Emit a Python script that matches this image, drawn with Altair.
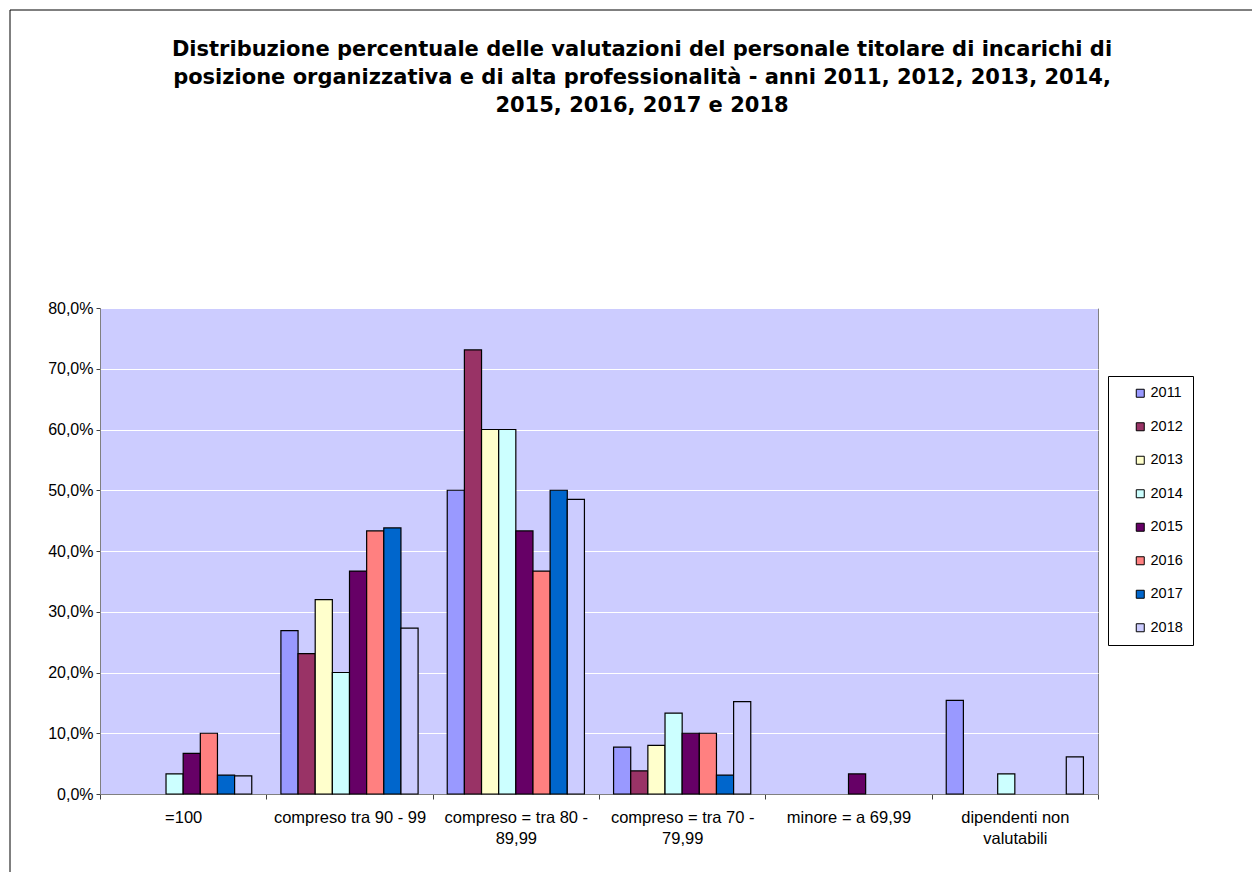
import altair as alt
import pandas as pd

categories = [
    "=100",
    "compreso tra 90 - 99",
    "compreso = tra 80 - 89,99",
    "compreso = tra 70 - 79,99",
    "minore = a 69,99",
    "dipendenti non valutabili",
]
category_lines = [
    ["=100"],
    ["compreso tra 90 - 99"],
    ["compreso = tra 80 -", "89,99"],
    ["compreso = tra 70 -", "79,99"],
    ["minore = a 69,99"],
    ["dipendenti non", "valutabili"],
]
years = ["2011", "2012", "2013", "2014", "2015", "2016", "2017", "2018"]
colors = ["#9999FF", "#993366", "#FFFFCC", "#CCFFFF", "#660066", "#FF8080", "#0066CC", "#CCCCFF"]

v2011 = [0.0, 26.9, 50.0, 7.7, 0.0, 15.4]
v2012 = [0.0, 23.1, 73.1, 3.8, 0.0, 0.0]
v2013 = [0.0, 32.0, 60.0, 8.0, 0.0, 0.0]
v2014 = [3.3, 20.0, 60.0, 13.3, 0.0, 3.3]
v2015 = [6.7, 36.7, 43.3, 10.0, 3.3, 0.0]
v2016 = [10.0, 43.3, 36.7, 10.0, 0.0, 0.0]
v2017 = [3.1, 43.8, 50.0, 3.1, 0.0, 0.0]
v2018 = [3.0, 27.3, 48.5, 15.2, 0.0, 6.1]

title_lines = [
    "Distribuzione percentuale delle valutazioni del personale titolare di incarichi di",
    "posizione organizzativa e di alta professionalità - anni 2011, 2012, 2013, 2014,",
    "2015, 2016, 2017 e 2018",
]

series = [v2011, v2012, v2013, v2014, v2015, v2016, v2017, v2018]
rows = []
for y, vals in zip(years, series):
    for c, v in zip(categories, vals):
        if v > 0:
            rows.append({"categoria": c, "anno": y, "valore": v / 100.0})
df = pd.DataFrame(rows)

# multi-line x labels
expr = "datum.value"
for c, lines in reversed(list(zip(categories, category_lines))):
    arr = "[" + ",".join("'" + l + "'" for l in lines) + "]"
    expr = f"datum.value == '{c}' ? {arr} : ({expr})"

LABEL_FONT = "Liberation Sans"

bars = alt.Chart(df).mark_bar(stroke="black", strokeWidth=1.2).encode(
    x=alt.X(
        "categoria:N",
        sort=categories,
        scale=alt.Scale(domain=categories, paddingInner=0, paddingOuter=0),
        axis=alt.Axis(
            title=None,
            labelAngle=0,
            labelExpr=expr,
            tickBand="extent",
            labelFont=LABEL_FONT,
            labelFontSize=16.5,
            labelColor="black",
            labelPadding=10,
            labelLineHeight=21,
            tickSize=5,
            tickColor="#404040",
            domainColor="#808080",
            grid=False,
        ),
    ),
    xOffset=alt.XOffset(
        "anno:N", scale=alt.Scale(domain=years, paddingInner=0, paddingOuter=0.85)
    ),
    y=alt.Y(
        "valore:Q",
        scale=alt.Scale(domain=[0, 0.8], nice=False),
        axis=alt.Axis(
            title=None,
            values=[0, 0.1, 0.2, 0.3, 0.4, 0.5, 0.6, 0.7, 0.8],
            labelExpr="replace(format(datum.value, '.1%'), '.', ',')",
            labelFont=LABEL_FONT,
            labelFontSize=16,
            labelColor="black",
            labelPadding=3,
            tickSize=4,
            tickColor="#404040",
            domainColor="#808080",
            gridColor="white",
            gridWidth=1,
            gridOpacity=1,
        ),
    ),
    color=alt.Color(
        "anno:N",
        scale=alt.Scale(domain=years, range=colors),
        legend=alt.Legend(
            title=None,
            orient="none",
            legendX=1008,
            legendY=68,
            padding=10,
            symbolOffset=15,
            strokeColor="black",
            fillColor="white",
            symbolType="square",
            symbolSize=64,
            symbolStrokeColor="black",
            symbolStrokeWidth=1,
            labelFont=LABEL_FONT,
            labelFontSize=14.5,
            labelColor="black",
            labelOffset=3,
            rowPadding=18.5,
        ),
    ),
)

frame = alt.Chart(pd.DataFrame({"k": [0]})).mark_rect(
    fill="transparent", stroke="black", strokeWidth=1
).encode(
    x=alt.value(-90), x2=alt.value(1170), y=alt.value(-298), y2=alt.value(800)
)

chart = alt.layer(bars, frame).properties(
    width=998,
    height=486,
    padding={"left": 92, "top": 300, "right": 154, "bottom": 80},
    autosize=alt.AutoSizeParams(type="none"),
    background="white",
    title=alt.TitleParams(
        text=title_lines,
        font="DejaVu Sans",
        fontSize=21,
        fontWeight="bold",
        color="black",
        anchor="middle",
        dx=43,
        dy=106,
        offset=0,
        lineHeight=28,
    ),
).configure_view(
    fill="#CCCCFF", stroke="#808080", strokeWidth=1
)

chart.save("out.html", embed_options={"renderer": "svg", "actions": False})
